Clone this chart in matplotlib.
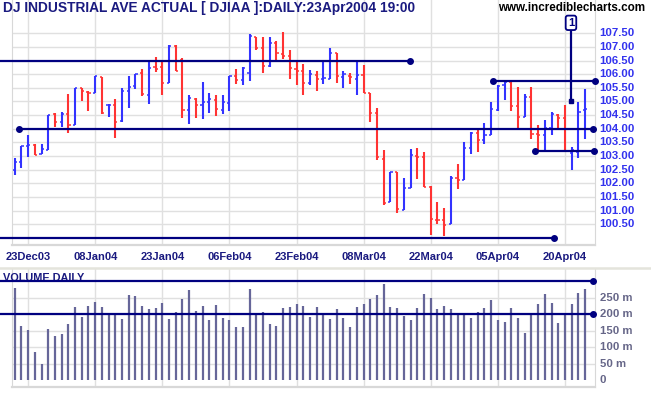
import matplotlib
matplotlib.use("Agg")
import matplotlib.pyplot as plt
import pandas as pd

plt.rcParams['font.family'] = ['Liberation Sans', 'DejaVu Sans']

# trading days 19 Dec 2003 .. 23 Apr 2004 (NYSE holidays removed)
holidays = ['2003-12-25', '2004-01-01', '2004-01-19', '2004-02-16', '2004-04-09']
dates = pd.bdate_range('2003-12-19', '2004-04-23', freq='C', holidays=holidays)

opens = [102.48, 102.78, 103.37, 103.40, 103.07, 103.21, 104.53, 104.26, 104.53, 104.14,
         105.48, 105.36, 105.30, 105.91, 104.87, 104.87, 104.28, 105.39, 105.57, 106.03,
         105.24, 106.25, 106.25, 105.67, 107.05, 106.52, 104.68, 105.09, 104.87, 104.99,
         105.04, 104.69, 104.93, 105.95, 105.79, 106.03, 107.38, 106.95, 106.31, 107.13,
         106.73, 106.68, 106.19, 106.12, 105.67, 105.97, 105.83, 105.83, 106.77, 105.91,
         105.94, 105.83, 105.97, 105.30, 104.57, 102.88, 101.30, 102.41, 101.02, 101.82,
         103.00, 102.98, 101.86, 100.65, 100.64, 100.50, 102.18, 102.11, 103.28, 103.83,
         103.59, 103.77, 104.69, 105.61, 105.73, 104.84, 104.43, 105.18, 103.81, 103.77,
         104.02, 104.50, 104.38, 103.12, 103.16, 104.69]
highs = [102.93, 103.37, 103.77, 103.44, 103.44, 104.50, 104.57, 104.60, 105.27, 105.48,
         105.48, 105.39, 105.95, 105.91, 104.91, 105.09, 105.50, 105.94, 106.01, 106.19,
         106.45, 106.62, 106.45, 107.07, 107.07, 106.58, 105.24, 105.12, 105.72, 105.31,
         105.24, 105.24, 105.95, 106.19, 106.27, 107.48, 107.38, 107.37, 107.37, 107.22,
         107.55, 106.89, 106.45, 106.38, 106.16, 106.12, 106.53, 106.96, 106.79, 106.12,
         106.05, 106.53, 106.34, 105.32, 104.77, 103.22, 102.43, 102.43, 102.19, 103.27,
         103.30, 103.15, 101.89, 101.31, 101.09, 102.27, 102.71, 103.53, 103.89, 104.02,
         104.21, 104.98, 105.62, 105.73, 105.73, 105.53, 105.27, 105.53, 104.14, 104.32,
         104.60, 104.53, 104.87, 103.32, 104.98, 105.46]
lows = [102.32, 102.57, 102.98, 103.04, 103.06, 103.21, 104.08, 104.08, 103.86, 104.14,
        105.02, 104.66, 105.30, 104.53, 104.44, 103.67, 104.26, 104.77, 105.45, 105.21,
        104.92, 106.09, 105.25, 105.67, 106.12, 104.41, 104.19, 104.41, 104.37, 104.59,
        104.48, 104.55, 104.66, 105.65, 105.61, 105.76, 106.90, 106.06, 106.28, 106.50,
        106.55, 105.83, 105.61, 105.25, 105.61, 105.40, 105.64, 105.83, 105.69, 105.51,
        105.65, 105.25, 105.30, 104.26, 102.87, 101.22, 101.30, 100.92, 101.01, 101.82,
        102.17, 101.85, 100.12, 100.50, 100.08, 100.50, 101.79, 102.11, 103.09, 103.16,
        103.45, 103.77, 104.66, 105.07, 104.65, 103.97, 104.42, 103.62, 103.20, 103.18,
        103.78, 104.00, 103.15, 102.50, 102.94, 103.64]
closes = [102.79, 103.37, 103.40, 103.04, 103.26, 104.50, 104.26, 104.54, 104.14, 105.48,
          105.39, 105.32, 105.94, 104.59, 104.87, 104.26, 105.39, 105.54, 106.01, 105.26,
          106.24, 106.20, 105.67, 107.05, 106.12, 104.69, 105.12, 104.87, 104.99, 105.08,
          104.72, 104.97, 105.95, 105.79, 106.24, 107.40, 106.97, 106.31, 107.16, 106.77,
          106.68, 106.22, 106.12, 105.67, 106.01, 105.83, 105.87, 106.79, 105.95, 106.00,
          105.89, 105.97, 105.32, 104.58, 102.96, 101.28, 102.43, 101.05, 101.83, 103.04,
          102.98, 101.86, 100.69, 100.65, 100.47, 102.21, 102.12, 103.29, 103.86, 103.59,
          103.77, 104.72, 105.58, 105.70, 104.84, 104.44, 105.18, 103.81, 103.77, 104.02,
          104.53, 104.38, 103.18, 103.23, 104.63, 104.72]
# volume in millions
volumes = [280, 164, 152, 85, 49, 155, 134, 140, 171, 222,
           192, 225, 238, 222, 198, 198, 186, 259, 256, 225,
           216, 219, 235, 186, 207, 247, 274, 210, 225, 183,
           228, 189, 183, 161, 161, 277, 198, 207, 171, 164,
           219, 222, 231, 225, 192, 222, 201, 186, 216, 189,
           161, 222, 231, 247, 259, 292, 222, 219, 195, 183,
           219, 262, 250, 216, 225, 216, 198, 198, 189, 207,
           219, 244, 183, 177, 219, 189, 143, 204, 231, 262,
           235, 174, 204, 231, 265, 277]

date_ticks = ['23Dec03', '08Jan04', '23Jan04', '06Feb04', '23Feb04',
              '08Mar04', '22Mar04', '05Apr04', '20Apr04']
price_ticks = [100.5, 101.0, 101.5, 102.0, 102.5, 103.0, 103.5, 104.0,
               104.5, 105.0, 105.5, 106.0, 106.5, 107.0, 107.5]
vol_ticks = [0, 50, 100, 150, 200, 250]

# drawn trend lines: (start bar, end bar, price, dot at start, dot at end)
price_lines = [(-2.2, 58.9, 106.50, False, True),
               (0.7, 86.2, 104.00, True, True),
               (71.3, 86.5, 105.75, True, True),
               (77.5, 86.3, 103.17, True, True),
               (-2.2, 80.4, 100.00, False, True)]
vol_lines = [300, 200]
marker_bar, marker_low, marker_top = 82.9, 105.0, 107.67

NAVY = '#000080'
UP, DOWN = '#3333ff', '#ff3333'
GRID = '#e0e0e0'

W, H = 651, 395
def rect(x0, y0, x1, y1):
    return [x0 / W, 1 - y1 / H, (x1 - x0) / W, (y1 - y0) / H]

fig = plt.figure(figsize=(W / 100, H / 100), dpi=100)
ax = fig.add_axes(rect(12, 0, 595, 245))
axv = fig.add_axes(rect(12, 269, 595, 387))

n = len(closes)
xs = list(range(n))
xlim = (-0.4, 86.48)
tick_idx = [i for i, d in enumerate(dates) if d.strftime('%d%b%y') in date_ticks]

for a in (ax, axv):
    a.set_xlim(*xlim)
    a.set_xticks([])
    a.set_yticks([])
    for s in a.spines.values():
        s.set_color('#d8d8d8')
    a.spines['top'].set_visible(False)
    a.spines['bottom'].set_linewidth(1.6)
    for i in tick_idx:
        a.axvline(i, color=GRID, lw=1, zorder=0)

# ---- price pane
ax.set_ylim(99.74, 108.72)
for p in price_ticks:
    ax.axhline(p, color=GRID, lw=1, zorder=0)
    ax.text(1.008, p, f'{p:.2f}', transform=ax.get_yaxis_transform(),
            ha='left', va='center', fontsize=8.2, fontweight='bold', color='#3333ee')

for i in xs:
    up = i == 0 or closes[i] > closes[i - 1]
    c = UP if up else DOWN
    ax.vlines(i, lows[i], highs[i], color=c, lw=1.5, zorder=3)
    ax.hlines(opens[i], i - 0.32, i, color=c, lw=1.1, zorder=3)
    ax.hlines(closes[i], i, i + 0.32, color=c, lw=1.1, zorder=3)

for x0, x1, p, d0, d1 in price_lines:
    ax.plot([x0, x1], [p, p], color=NAVY, lw=1.6, clip_on=False, zorder=4)
    dots = [x for x, d in ((x0, d0), (x1, d1)) if d]
    ax.plot(dots, [p] * len(dots), 'o', color=NAVY, ms=4, clip_on=False, zorder=5)

ax.plot([marker_bar, marker_bar], [marker_low, marker_top], color=NAVY, lw=1.6, zorder=4)
ax.plot([marker_bar], [marker_low], 's', color=NAVY, ms=2.5, zorder=5)
ax.text(marker_bar, marker_top + 0.03, '1', ha='center', va='bottom', fontsize=8,
        fontweight='bold', color=NAVY, zorder=6,
        bbox=dict(boxstyle='round,pad=0.2', fc='white', ec=NAVY, lw=1.3))

for i in tick_idx:
    ax.text(i, -0.05, dates[i].strftime('%d%b%y'), transform=ax.get_xaxis_transform(),
            ha='center', va='center', fontsize=8, fontweight='bold', color='#1a1a80')

fig.text(3 / W, 1 - 8 / H, 'DJ INDUSTRIAL AVE ACTUAL [ DJIAA ]:DAILY:23Apr2004 19:00',
         ha='left', va='center', fontsize=9.9, fontweight='bold', color='#1a1a80')
fig.text(645 / W, 1 - 8 / H, 'www.incrediblecharts.com', ha='right', va='center',
         fontsize=8.4, fontweight='bold', color='black')

# separator band between panes
fig.add_artist(plt.Line2D([0, 1], [1 - 267.5 / H] * 2, color='#e4e4dc', lw=1.8))

# ---- volume pane
axv.set_ylim(-21.3, 337.9)
for v in vol_ticks:
    if v > 0:
        axv.axhline(v, color=GRID, lw=1, zorder=0)
    axv.text(1.008, v, '0' if v == 0 else f'{v} m', transform=axv.get_yaxis_transform(),
             ha='left', va='center', fontsize=8.2, fontweight='bold', color='#666688')
axv.vlines(xs, 0, volumes, color='#666699', lw=1.6, zorder=3)
for v in vol_lines:
    axv.plot([-2.2, 86.2], [v, v], color=NAVY, lw=1.6, clip_on=False, zorder=4)
    axv.plot([86.2], [v], 'o', color=NAVY, ms=4, clip_on=False, zorder=5)
axv.text(-1.75, 302, 'VOLUME DAILY', ha='left', va='baseline', fontsize=7.8,
         fontweight='bold', color='#1a1a80', clip_on=False)

fig.savefig('out.png', dpi=100)
